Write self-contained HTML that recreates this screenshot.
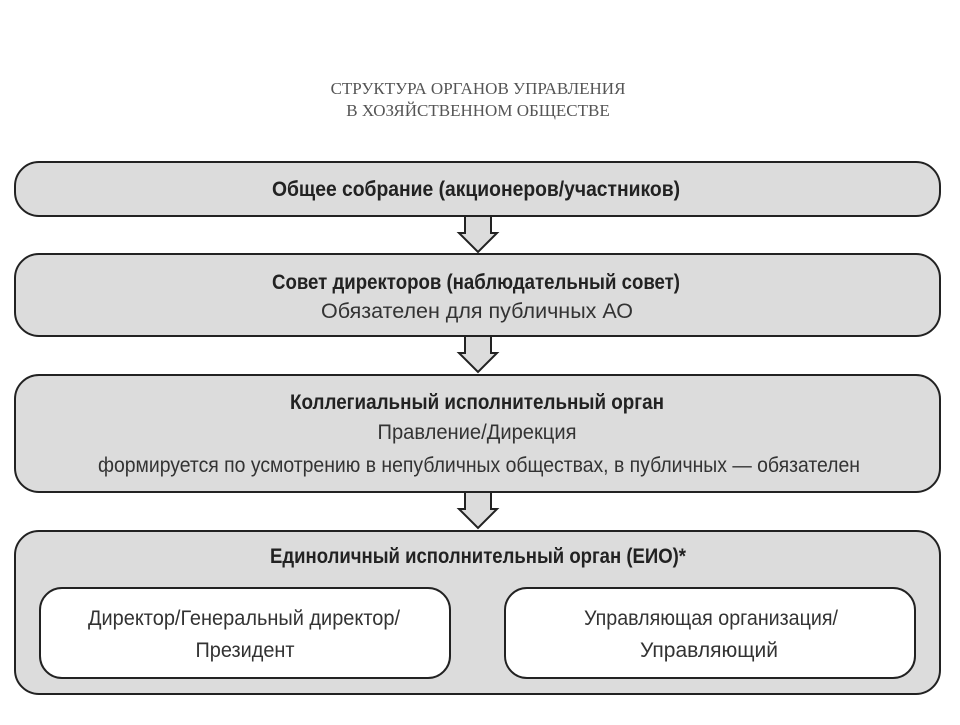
<!DOCTYPE html>
<html><head><meta charset="utf-8"><style>body{margin:0;background:#fff}</style></head>
<body>
<svg width="960" height="720" viewBox="0 0 960 720" xmlns="http://www.w3.org/2000/svg">
<g font-family="Liberation Serif, serif" fill="#555" font-size="17" text-anchor="middle">
<text x="478" y="94">СТРУКТУРА ОРГАНОВ УПРАВЛЕНИЯ</text>
<text x="478" y="116">В ХОЗЯЙСТВЕННОМ ОБЩЕСТВЕ</text>
</g>
<g fill="#dcdcdc" stroke="#222" stroke-width="2">
<rect x="15" y="162" width="925" height="54" rx="24"/>
<rect x="15" y="254" width="925" height="82" rx="24"/>
<rect x="15" y="375" width="925" height="117" rx="24"/>
<rect x="15" y="531" width="925" height="163" rx="24"/>
<rect x="40" y="588" width="410" height="90" rx="22" fill="#fff"/>
<rect x="505" y="588" width="410" height="90" rx="22" fill="#fff"/>
<path d="M465 217 V233 H459 L478 252 L497 233 H491 V217"/>
<path d="M465 337 V353 H459 L478 372 L497 353 H491 V337"/>
<path d="M465 493 V509 H459 L478 528 L497 509 H491 V493"/>
</g>
<g font-family="Liberation Sans, sans-serif" font-size="21" fill="#222" text-anchor="middle">
<text x="476" y="196" textLength="408" lengthAdjust="spacingAndGlyphs" font-weight="bold">Общее собрание (акционеров/участников)</text>
<text x="476" y="289" textLength="408" lengthAdjust="spacingAndGlyphs" font-weight="bold">Совет директоров (наблюдательный совет)</text>
<text x="477" y="318" textLength="312" lengthAdjust="spacingAndGlyphs" fill="#333">Обязателен для публичных АО</text>
<text x="477" y="409" textLength="374" lengthAdjust="spacingAndGlyphs" font-weight="bold">Коллегиальный исполнительный орган</text>
<text x="477" y="439" textLength="199" lengthAdjust="spacingAndGlyphs" fill="#333">Правление/Дирекция</text>
<text x="479" y="472" textLength="762" lengthAdjust="spacingAndGlyphs" fill="#333">формируется по усмотрению в непубличных обществах, в публичных — обязателен</text>
<text x="478" y="563" textLength="416" lengthAdjust="spacingAndGlyphs" font-weight="bold">Единоличный исполнительный орган (ЕИО)*</text>
<text x="244" y="625" textLength="312" lengthAdjust="spacingAndGlyphs" fill="#333">Директор/Генеральный директор/</text>
<text x="245" y="657" textLength="99" lengthAdjust="spacingAndGlyphs" fill="#333">Президент</text>
<text x="711" y="625" textLength="254" lengthAdjust="spacingAndGlyphs" fill="#333">Управляющая организация/</text>
<text x="709" y="657" textLength="138" lengthAdjust="spacingAndGlyphs" fill="#333">Управляющий</text>
</g>
</svg>
</body></html>
